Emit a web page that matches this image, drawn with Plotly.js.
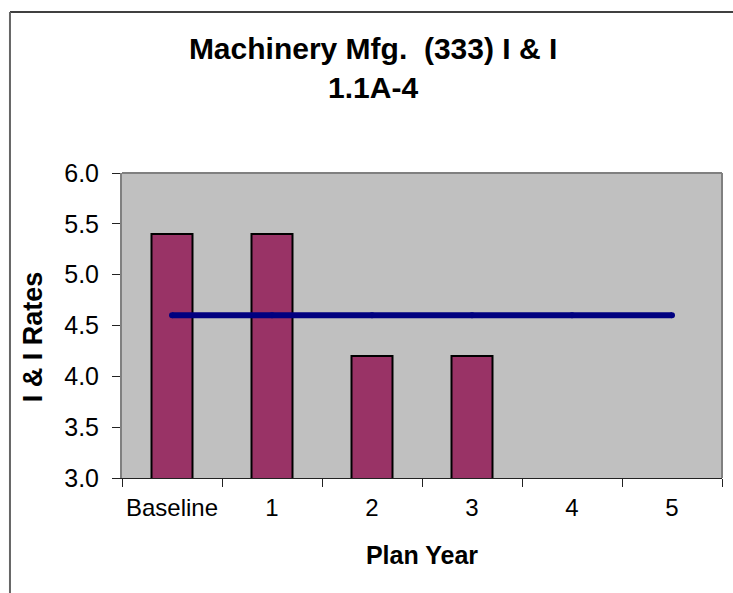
<!DOCTYPE html>
<html>
<head>
<meta charset="utf-8">
<script src="https://cdn.plot.ly/plotly-3.0.1.min.js"></script>
<style>
html,body{margin:0;padding:0;background:#fff;}
#chart{width:733px;height:593px;}
</style>
</head>
<body>
<div id="chart"></div>
<script>
// ---- data ----
const categories = ["Baseline", "1", "2", "3", "4", "5"];
const barValues = [5.4, 5.4, 4.2, 4.2, null, null];
const lineValues = [4.6, 4.6, 4.6, 4.6, 4.6, 4.6];
const yTickValues = [3.0, 3.5, 4.0, 4.5, 5.0, 5.5, 6.0];
const yTickLabels = ["3.0", "3.5", "4.0", "4.5", "5.0", "5.5", "6.0"];
const titleText = "<b>Machinery Mfg.  (333) I &amp; I</b><br><b>1.1A-4</b>";
const xTitle = "<b>Plan Year</b>";
const yTitle = "<b>I &amp; I Rates</b>";

const FONT = "Liberation Sans, Arial, sans-serif";

// boundaries between categories for the crossing tick marks
const boundaries = categories.map((c, i) => i - 0.5).concat([categories.length - 0.5]);

const traces = [
  {
    type: "bar",
    x: categories,
    y: barValues,
    width: 0.41,
    marker: {color: "#993366", line: {color: "#000000", width: 2}},
    hoverinfo: "x+y",
    showlegend: false
  },
  {
    type: "scatter",
    mode: "lines+markers",
    x: categories,
    y: lineValues,
    line: {color: "#000080", width: 6},
    marker: {color: "#000080", size: 6},
    showlegend: false
  }
];

const layout = {
  width: 733,
  height: 593,
  margin: {l: 122, r: 11, t: 173, b: 115},
  paper_bgcolor: "#ffffff",
  plot_bgcolor: "#c0c0c0",
  font: {family: FONT, color: "#000000", size: 24},
  title: {
    text: titleText,
    font: {family: FONT, size: 30, color: "#000000"},
    xref: "container", x: 0.509, xanchor: "center",
    yref: "container", y: 0.9, yanchor: "top"
  },
  xaxis: {
    type: "category",
    categoryorder: "array",
    categoryarray: categories,
    range: [-0.5, categories.length - 0.5],
    showgrid: false,
    zeroline: false,
    showline: true,
    linecolor: "#222222",
    linewidth: 1,
    ticks: "outside",
    tickson: "boundaries",
    ticklen: 8,
    tickcolor: "#222222",
    tickangle: 0,
    ticklabelstandoff: 8,
    tickfont: {family: FONT, size: 24, color: "#000000"},
    title: {text: xTitle, font: {family: FONT, size: 25, color: "#000000"}, standoff: 26},
    fixedrange: true
  },
  yaxis: {
    range: [3, 6],
    tickvals: yTickValues,
    ticktext: yTickLabels,
    showgrid: false,
    zeroline: false,
    showline: true,
    linecolor: "#808080",
    linewidth: 2,
    ticks: "outside",
    ticklen: 8,
    tickcolor: "#222222",
    ticklabelstandoff: 8,
    tickfont: {family: FONT, size: 25, color: "#000000"},
    fixedrange: true
  },
  xaxis2: {
    overlaying: "x",
    anchor: "y",
    range: [-0.5, categories.length - 0.5],
    tickvals: boundaries,
    showticklabels: false,
    ticks: "inside",
    ticklen: 8,
    tickcolor: "#222222",
    showgrid: false,
    zeroline: false,
    showline: false,
    fixedrange: true
  },
  yaxis2: {
    overlaying: "y",
    anchor: "x",
    side: "left",
    range: [3, 6],
    tickvals: yTickValues,
    showticklabels: false,
    ticks: "inside",
    ticklen: 8,
    tickcolor: "#222222",
    showgrid: false,
    zeroline: false,
    showline: false,
    fixedrange: true
  },
  annotations: [
    {text: yTitle, textangle: -90, showarrow: false,
     xref: "paper", yref: "paper", x: -0.148, y: 0.462,
     xanchor: "center", yanchor: "middle",
     font: {family: FONT, size: 27, color: "#000000"}}
  ],
  shapes: [
    // plot area frame (top and right edges)
    {type: "line", xref: "paper", yref: "paper", x0: 0, x1: 1, y0: 1, y1: 1,
     line: {color: "#808080", width: 2}, layer: "above"},
    {type: "line", xref: "paper", yref: "paper", x0: 1, x1: 1, y0: 0, y1: 1,
     line: {color: "#808080", width: 2}, layer: "above"},
    // outer chart border (top and left)
    {type: "line", xref: "paper", yref: "paper", x0: -0.1867, x1: 1.05, y0: 1.528, y1: 1.528,
     line: {color: "#000000", width: 1.5}, layer: "below"},
    {type: "line", xref: "paper", yref: "paper", x0: -0.1867, x1: -0.1867, y0: -0.5, y1: 1.528,
     line: {color: "#666666", width: 2}, layer: "below"}
  ]
};

Plotly.newPlot("chart", traces, layout, {displayModeBar: false, staticPlot: true});
</script>
</body>
</html>
